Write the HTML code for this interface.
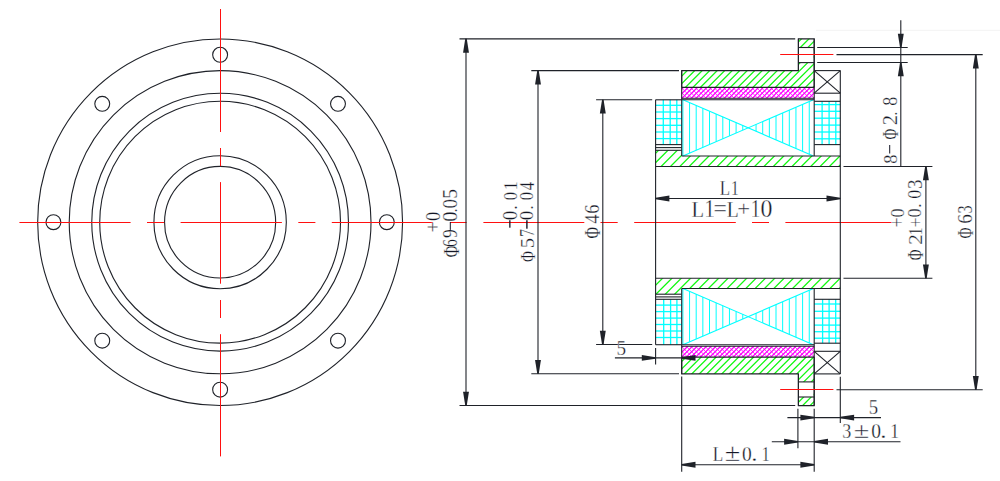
<!DOCTYPE html>
<html><head><meta charset="utf-8"><style>
html,body{margin:0;padding:0;background:#fff;}
body{width:1000px;height:481px;overflow:hidden;}
svg{display:block;font-family:"Liberation Serif",serif;}
</style></head><body>
<svg width="1000" height="481" viewBox="0 0 1000 481">
<rect width="1000" height="481" fill="#fff"/>
<line x1="816.00" y1="30.30" x2="1000.00" y2="30.30" stroke="#f3f3f3" stroke-width="1.0" />
<ellipse cx="220.12" cy="222.22" rx="182.45" ry="183.27" fill="none" stroke="#1f2229" stroke-width="1.1"/>
<ellipse cx="220.12" cy="222.22" rx="150.90" ry="151.58" fill="none" stroke="#1f2229" stroke-width="1.1"/>
<ellipse cx="220.12" cy="222.22" rx="128.35" ry="128.93" fill="none" stroke="#1f2229" stroke-width="1.1"/>
<ellipse cx="220.12" cy="222.22" rx="120.40" ry="120.94" fill="none" stroke="#1f2229" stroke-width="1.1"/>
<ellipse cx="220.12" cy="222.22" rx="66.20" ry="66.50" fill="none" stroke="#1f2229" stroke-width="1.1"/>
<ellipse cx="220.12" cy="222.22" rx="55.55" ry="55.80" fill="none" stroke="#1f2229" stroke-width="1.1"/>
<circle cx="386.82" cy="222.22" r="7.45" fill="none" stroke="#1f2229" stroke-width="1.1"/>
<circle cx="337.99" cy="340.63" r="7.45" fill="none" stroke="#1f2229" stroke-width="1.1"/>
<circle cx="220.12" cy="389.67" r="7.45" fill="none" stroke="#1f2229" stroke-width="1.1"/>
<circle cx="102.25" cy="340.63" r="7.45" fill="none" stroke="#1f2229" stroke-width="1.1"/>
<circle cx="53.42" cy="222.22" r="7.45" fill="none" stroke="#1f2229" stroke-width="1.1"/>
<circle cx="102.25" cy="103.81" r="7.45" fill="none" stroke="#1f2229" stroke-width="1.1"/>
<circle cx="220.12" cy="54.77" r="7.45" fill="none" stroke="#1f2229" stroke-width="1.1"/>
<circle cx="337.99" cy="103.81" r="7.45" fill="none" stroke="#1f2229" stroke-width="1.1"/>
<line x1="19.40" y1="222.50" x2="130.60" y2="222.50" stroke="#ff1010" stroke-width="1.0" />
<line x1="147.00" y1="222.50" x2="164.20" y2="222.50" stroke="#ff1010" stroke-width="1.0" />
<line x1="180.60" y1="222.50" x2="281.90" y2="222.50" stroke="#ff1010" stroke-width="1.0" />
<line x1="298.30" y1="222.50" x2="315.40" y2="222.50" stroke="#ff1010" stroke-width="1.0" />
<line x1="331.80" y1="222.50" x2="432.90" y2="222.50" stroke="#ff1010" stroke-width="1.0" />
<line x1="450.00" y1="222.50" x2="466.60" y2="222.50" stroke="#ff1010" stroke-width="1.0" />
<line x1="483.40" y1="222.50" x2="584.30" y2="222.50" stroke="#ff1010" stroke-width="1.0" />
<line x1="600.50" y1="222.50" x2="617.70" y2="222.50" stroke="#ff1010" stroke-width="1.0" />
<line x1="634.20" y1="222.50" x2="735.80" y2="222.50" stroke="#ff1010" stroke-width="1.0" />
<line x1="752.00" y1="222.50" x2="769.00" y2="222.50" stroke="#ff1010" stroke-width="1.0" />
<line x1="785.40" y1="222.50" x2="895.00" y2="222.50" stroke="#ff1010" stroke-width="1.0" />
<line x1="220.50" y1="9.00" x2="220.50" y2="132.00" stroke="#ff1010" stroke-width="1.0" />
<line x1="220.50" y1="148.00" x2="220.50" y2="166.20" stroke="#ff1010" stroke-width="1.0" />
<line x1="220.50" y1="182.10" x2="220.50" y2="283.70" stroke="#ff1010" stroke-width="1.0" />
<line x1="220.50" y1="300.00" x2="220.50" y2="318.00" stroke="#ff1010" stroke-width="1.0" />
<line x1="220.50" y1="334.20" x2="220.50" y2="456.40" stroke="#ff1010" stroke-width="1.0" />
<clipPath id="c1"><polygon points="681.70,70.60 798.40,70.60 798.40,38.85 814.20,38.85 814.20,87.40 681.70,87.40"/></clipPath>
<path clip-path="url(#c1)" d="M686.45,33.85L627.90,92.40M693.95,33.85L635.40,92.40M701.45,33.85L642.90,92.40M708.95,33.85L650.40,92.40M716.45,33.85L657.90,92.40M723.95,33.85L665.40,92.40M731.45,33.85L672.90,92.40M738.95,33.85L680.40,92.40M746.45,33.85L687.90,92.40M753.95,33.85L695.40,92.40M761.45,33.85L702.90,92.40M768.95,33.85L710.40,92.40M776.45,33.85L717.90,92.40M783.95,33.85L725.40,92.40M791.45,33.85L732.90,92.40M798.95,33.85L740.40,92.40M806.45,33.85L747.90,92.40M813.95,33.85L755.40,92.40M821.45,33.85L762.90,92.40M828.95,33.85L770.40,92.40M836.45,33.85L777.90,92.40M843.95,33.85L785.40,92.40M851.45,33.85L792.90,92.40M858.95,33.85L800.40,92.40M866.45,33.85L807.90,92.40" stroke="#12f812" stroke-width="1.3" fill="none"/>
<clipPath id="c2"><polygon points="681.70,373.90 798.40,373.90 798.40,405.65 814.20,405.65 814.20,357.10 681.70,357.10"/></clipPath>
<path clip-path="url(#c2)" d="M683.60,352.10L625.05,410.65M691.10,352.10L632.55,410.65M698.60,352.10L640.05,410.65M706.10,352.10L647.55,410.65M713.60,352.10L655.05,410.65M721.10,352.10L662.55,410.65M728.60,352.10L670.05,410.65M736.10,352.10L677.55,410.65M743.60,352.10L685.05,410.65M751.10,352.10L692.55,410.65M758.60,352.10L700.05,410.65M766.10,352.10L707.55,410.65M773.60,352.10L715.05,410.65M781.10,352.10L722.55,410.65M788.60,352.10L730.05,410.65M796.10,352.10L737.55,410.65M803.60,352.10L745.05,410.65M811.10,352.10L752.55,410.65M818.60,352.10L760.05,410.65M826.10,352.10L767.55,410.65M833.60,352.10L775.05,410.65M841.10,352.10L782.55,410.65M848.60,352.10L790.05,410.65M856.10,352.10L797.55,410.65M863.60,352.10L805.05,410.65" stroke="#12f812" stroke-width="1.3" fill="none"/>
<rect x="799.00" y="47.50" width="14.60" height="15.10" fill="#fff" stroke="none" stroke-width="0"/>
<rect x="799.00" y="381.90" width="14.60" height="15.10" fill="#fff" stroke="none" stroke-width="0"/>
<clipPath id="c3"><polygon points="681.70,87.40 814.20,87.40 814.20,98.30 681.70,98.30"/></clipPath>
<path clip-path="url(#c3)" d="M683.70,82.40L662.80,103.30M688.40,82.40L667.50,103.30M693.10,82.40L672.20,103.30M697.80,82.40L676.90,103.30M702.50,82.40L681.60,103.30M707.20,82.40L686.30,103.30M711.90,82.40L691.00,103.30M716.60,82.40L695.70,103.30M721.30,82.40L700.40,103.30M726.00,82.40L705.10,103.30M730.70,82.40L709.80,103.30M735.40,82.40L714.50,103.30M740.10,82.40L719.20,103.30M744.80,82.40L723.90,103.30M749.50,82.40L728.60,103.30M754.20,82.40L733.30,103.30M758.90,82.40L738.00,103.30M763.60,82.40L742.70,103.30M768.30,82.40L747.40,103.30M773.00,82.40L752.10,103.30M777.70,82.40L756.80,103.30M782.40,82.40L761.50,103.30M787.10,82.40L766.20,103.30M791.80,82.40L770.90,103.30M796.50,82.40L775.60,103.30M801.20,82.40L780.30,103.30M805.90,82.40L785.00,103.30M810.60,82.40L789.70,103.30M815.30,82.40L794.40,103.30M820.00,82.40L799.10,103.30M824.70,82.40L803.80,103.30M829.40,82.40L808.50,103.30" stroke="#ff00ff" stroke-width="1.3" fill="none"/>
<clipPath id="c4"><polygon points="681.70,87.40 814.20,87.40 814.20,98.30 681.70,98.30"/></clipPath>
<path clip-path="url(#c4)" d="M662.00,82.40L682.90,103.30M666.70,82.40L687.60,103.30M671.40,82.40L692.30,103.30M676.10,82.40L697.00,103.30M680.80,82.40L701.70,103.30M685.50,82.40L706.40,103.30M690.20,82.40L711.10,103.30M694.90,82.40L715.80,103.30M699.60,82.40L720.50,103.30M704.30,82.40L725.20,103.30M709.00,82.40L729.90,103.30M713.70,82.40L734.60,103.30M718.40,82.40L739.30,103.30M723.10,82.40L744.00,103.30M727.80,82.40L748.70,103.30M732.50,82.40L753.40,103.30M737.20,82.40L758.10,103.30M741.90,82.40L762.80,103.30M746.60,82.40L767.50,103.30M751.30,82.40L772.20,103.30M756.00,82.40L776.90,103.30M760.70,82.40L781.60,103.30M765.40,82.40L786.30,103.30M770.10,82.40L791.00,103.30M774.80,82.40L795.70,103.30M779.50,82.40L800.40,103.30M784.20,82.40L805.10,103.30M788.90,82.40L809.80,103.30M793.60,82.40L814.50,103.30M798.30,82.40L819.20,103.30M803.00,82.40L823.90,103.30M807.70,82.40L828.60,103.30" stroke="#ff00ff" stroke-width="0.8" fill="none"/>
<clipPath id="c5"><polygon points="681.70,346.20 814.20,346.20 814.20,357.10 681.70,357.10"/></clipPath>
<path clip-path="url(#c5)" d="M683.40,341.20L662.50,362.10M688.10,341.20L667.20,362.10M692.80,341.20L671.90,362.10M697.50,341.20L676.60,362.10M702.20,341.20L681.30,362.10M706.90,341.20L686.00,362.10M711.60,341.20L690.70,362.10M716.30,341.20L695.40,362.10M721.00,341.20L700.10,362.10M725.70,341.20L704.80,362.10M730.40,341.20L709.50,362.10M735.10,341.20L714.20,362.10M739.80,341.20L718.90,362.10M744.50,341.20L723.60,362.10M749.20,341.20L728.30,362.10M753.90,341.20L733.00,362.10M758.60,341.20L737.70,362.10M763.30,341.20L742.40,362.10M768.00,341.20L747.10,362.10M772.70,341.20L751.80,362.10M777.40,341.20L756.50,362.10M782.10,341.20L761.20,362.10M786.80,341.20L765.90,362.10M791.50,341.20L770.60,362.10M796.20,341.20L775.30,362.10M800.90,341.20L780.00,362.10M805.60,341.20L784.70,362.10M810.30,341.20L789.40,362.10M815.00,341.20L794.10,362.10M819.70,341.20L798.80,362.10M824.40,341.20L803.50,362.10M829.10,341.20L808.20,362.10" stroke="#ff00ff" stroke-width="1.3" fill="none"/>
<clipPath id="c6"><polygon points="681.70,346.20 814.20,346.20 814.20,357.10 681.70,357.10"/></clipPath>
<path clip-path="url(#c6)" d="M662.30,341.20L683.20,362.10M667.00,341.20L687.90,362.10M671.70,341.20L692.60,362.10M676.40,341.20L697.30,362.10M681.10,341.20L702.00,362.10M685.80,341.20L706.70,362.10M690.50,341.20L711.40,362.10M695.20,341.20L716.10,362.10M699.90,341.20L720.80,362.10M704.60,341.20L725.50,362.10M709.30,341.20L730.20,362.10M714.00,341.20L734.90,362.10M718.70,341.20L739.60,362.10M723.40,341.20L744.30,362.10M728.10,341.20L749.00,362.10M732.80,341.20L753.70,362.10M737.50,341.20L758.40,362.10M742.20,341.20L763.10,362.10M746.90,341.20L767.80,362.10M751.60,341.20L772.50,362.10M756.30,341.20L777.20,362.10M761.00,341.20L781.90,362.10M765.70,341.20L786.60,362.10M770.40,341.20L791.30,362.10M775.10,341.20L796.00,362.10M779.80,341.20L800.70,362.10M784.50,341.20L805.40,362.10M789.20,341.20L810.10,362.10M793.90,341.20L814.80,362.10M798.60,341.20L819.50,362.10M803.30,341.20L824.20,362.10M808.00,341.20L828.90,362.10" stroke="#ff00ff" stroke-width="0.8" fill="none"/>
<clipPath id="c7"><polygon points="655.60,150.30 681.70,150.30 681.70,156.00 840.30,156.00 840.30,166.50 655.60,166.50"/></clipPath>
<path clip-path="url(#c7)" d="M654.25,145.30L628.05,171.50M663.60,145.30L637.40,171.50M672.95,145.30L646.75,171.50M682.30,145.30L656.10,171.50M691.65,145.30L665.45,171.50M701.00,145.30L674.80,171.50M710.35,145.30L684.15,171.50M719.70,145.30L693.50,171.50M729.05,145.30L702.85,171.50M738.40,145.30L712.20,171.50M747.75,145.30L721.55,171.50M757.10,145.30L730.90,171.50M766.45,145.30L740.25,171.50M775.80,145.30L749.60,171.50M785.15,145.30L758.95,171.50M794.50,145.30L768.30,171.50M803.85,145.30L777.65,171.50M813.20,145.30L787.00,171.50M822.55,145.30L796.35,171.50M831.90,145.30L805.70,171.50M841.25,145.30L815.05,171.50M850.60,145.30L824.40,171.50M859.95,145.30L833.75,171.50" stroke="#12f812" stroke-width="1.3" fill="none"/>
<clipPath id="c8"><polygon points="655.60,294.20 681.70,294.20 681.70,288.50 840.30,288.50 840.30,278.30 655.60,278.30"/></clipPath>
<path clip-path="url(#c8)" d="M658.15,273.30L632.25,299.20M667.50,273.30L641.60,299.20M676.85,273.30L650.95,299.20M686.20,273.30L660.30,299.20M695.55,273.30L669.65,299.20M704.90,273.30L679.00,299.20M714.25,273.30L688.35,299.20M723.60,273.30L697.70,299.20M732.95,273.30L707.05,299.20M742.30,273.30L716.40,299.20M751.65,273.30L725.75,299.20M761.00,273.30L735.10,299.20M770.35,273.30L744.45,299.20M779.70,273.30L753.80,299.20M789.05,273.30L763.15,299.20M798.40,273.30L772.50,299.20M807.75,273.30L781.85,299.20M817.10,273.30L791.20,299.20M826.45,273.30L800.55,299.20M835.80,273.30L809.90,299.20M845.15,273.30L819.25,299.20M854.50,273.30L828.60,299.20" stroke="#12f812" stroke-width="1.3" fill="none"/>
<line x1="663.30" y1="99.80" x2="663.30" y2="144.60" stroke="#00ffff" stroke-width="1.3" />
<line x1="670.20" y1="99.80" x2="670.20" y2="144.60" stroke="#00ffff" stroke-width="1.3" />
<line x1="676.80" y1="99.80" x2="676.80" y2="144.60" stroke="#00ffff" stroke-width="1.3" />
<line x1="655.60" y1="105.30" x2="681.70" y2="105.30" stroke="#00ffff" stroke-width="1.3" />
<line x1="655.60" y1="112.00" x2="681.70" y2="112.00" stroke="#00ffff" stroke-width="1.3" />
<line x1="655.60" y1="118.60" x2="681.70" y2="118.60" stroke="#00ffff" stroke-width="1.3" />
<line x1="655.60" y1="125.30" x2="681.70" y2="125.30" stroke="#00ffff" stroke-width="1.3" />
<line x1="655.60" y1="132.00" x2="681.70" y2="132.00" stroke="#00ffff" stroke-width="1.3" />
<line x1="655.60" y1="138.60" x2="681.70" y2="138.60" stroke="#00ffff" stroke-width="1.3" />
<line x1="663.70" y1="299.30" x2="663.70" y2="344.70" stroke="#00ffff" stroke-width="1.3" />
<line x1="670.60" y1="299.30" x2="670.60" y2="344.70" stroke="#00ffff" stroke-width="1.3" />
<line x1="676.90" y1="299.30" x2="676.90" y2="344.70" stroke="#00ffff" stroke-width="1.3" />
<line x1="655.60" y1="305.10" x2="681.70" y2="305.10" stroke="#00ffff" stroke-width="1.3" />
<line x1="655.60" y1="311.60" x2="681.70" y2="311.60" stroke="#00ffff" stroke-width="1.3" />
<line x1="655.60" y1="318.10" x2="681.70" y2="318.10" stroke="#00ffff" stroke-width="1.3" />
<line x1="655.60" y1="324.50" x2="681.70" y2="324.50" stroke="#00ffff" stroke-width="1.3" />
<line x1="655.60" y1="331.00" x2="681.70" y2="331.00" stroke="#00ffff" stroke-width="1.3" />
<line x1="655.60" y1="337.50" x2="681.70" y2="337.50" stroke="#00ffff" stroke-width="1.3" />
<line x1="822.10" y1="101.30" x2="822.10" y2="144.60" stroke="#00ffff" stroke-width="1.3" />
<line x1="829.10" y1="101.30" x2="829.10" y2="144.60" stroke="#00ffff" stroke-width="1.3" />
<line x1="835.80" y1="101.30" x2="835.80" y2="144.60" stroke="#00ffff" stroke-width="1.3" />
<line x1="814.20" y1="104.60" x2="840.30" y2="104.60" stroke="#00ffff" stroke-width="1.3" />
<line x1="814.20" y1="111.30" x2="840.30" y2="111.30" stroke="#00ffff" stroke-width="1.3" />
<line x1="814.20" y1="118.20" x2="840.30" y2="118.20" stroke="#00ffff" stroke-width="1.3" />
<line x1="814.20" y1="125.10" x2="840.30" y2="125.10" stroke="#00ffff" stroke-width="1.3" />
<line x1="814.20" y1="132.00" x2="840.30" y2="132.00" stroke="#00ffff" stroke-width="1.3" />
<line x1="814.20" y1="138.80" x2="840.30" y2="138.80" stroke="#00ffff" stroke-width="1.3" />
<line x1="822.60" y1="299.30" x2="822.60" y2="343.20" stroke="#00ffff" stroke-width="1.3" />
<line x1="829.10" y1="299.30" x2="829.10" y2="343.20" stroke="#00ffff" stroke-width="1.3" />
<line x1="835.70" y1="299.30" x2="835.70" y2="343.20" stroke="#00ffff" stroke-width="1.3" />
<line x1="814.20" y1="304.00" x2="840.30" y2="304.00" stroke="#00ffff" stroke-width="1.3" />
<line x1="814.20" y1="311.30" x2="840.30" y2="311.30" stroke="#00ffff" stroke-width="1.3" />
<line x1="814.20" y1="318.10" x2="840.30" y2="318.10" stroke="#00ffff" stroke-width="1.3" />
<line x1="814.20" y1="325.10" x2="840.30" y2="325.10" stroke="#00ffff" stroke-width="1.3" />
<line x1="814.20" y1="331.70" x2="840.30" y2="331.70" stroke="#00ffff" stroke-width="1.3" />
<line x1="814.20" y1="338.20" x2="840.30" y2="338.20" stroke="#00ffff" stroke-width="1.3" />
<line x1="682.90" y1="99.70" x2="813.40" y2="156.00" stroke="#00ffff" stroke-width="1.1" />
<line x1="682.90" y1="156.00" x2="813.40" y2="99.70" stroke="#00ffff" stroke-width="1.1" />
<line x1="682.90" y1="99.70" x2="682.90" y2="156.00" stroke="#00ffff" stroke-width="1.0" />
<line x1="689.55" y1="102.57" x2="689.55" y2="153.13" stroke="#00ffff" stroke-width="1.0" />
<line x1="696.20" y1="105.44" x2="696.20" y2="150.26" stroke="#00ffff" stroke-width="1.0" />
<line x1="702.85" y1="108.31" x2="702.85" y2="147.39" stroke="#00ffff" stroke-width="1.0" />
<line x1="709.50" y1="111.18" x2="709.50" y2="144.52" stroke="#00ffff" stroke-width="1.0" />
<line x1="716.15" y1="114.04" x2="716.15" y2="141.66" stroke="#00ffff" stroke-width="1.0" />
<line x1="722.80" y1="116.91" x2="722.80" y2="138.79" stroke="#00ffff" stroke-width="1.0" />
<line x1="729.45" y1="119.78" x2="729.45" y2="135.92" stroke="#00ffff" stroke-width="1.0" />
<line x1="736.10" y1="122.65" x2="736.10" y2="133.05" stroke="#00ffff" stroke-width="1.0" />
<line x1="742.75" y1="125.52" x2="742.75" y2="130.18" stroke="#00ffff" stroke-width="1.0" />
<line x1="756.05" y1="124.44" x2="756.05" y2="131.26" stroke="#00ffff" stroke-width="1.0" />
<line x1="762.70" y1="121.57" x2="762.70" y2="134.13" stroke="#00ffff" stroke-width="1.0" />
<line x1="769.35" y1="118.70" x2="769.35" y2="137.00" stroke="#00ffff" stroke-width="1.0" />
<line x1="776.00" y1="115.84" x2="776.00" y2="139.86" stroke="#00ffff" stroke-width="1.0" />
<line x1="782.65" y1="112.97" x2="782.65" y2="142.73" stroke="#00ffff" stroke-width="1.0" />
<line x1="789.30" y1="110.10" x2="789.30" y2="145.60" stroke="#00ffff" stroke-width="1.0" />
<line x1="795.95" y1="107.23" x2="795.95" y2="148.47" stroke="#00ffff" stroke-width="1.0" />
<line x1="802.60" y1="104.36" x2="802.60" y2="151.34" stroke="#00ffff" stroke-width="1.0" />
<line x1="809.25" y1="101.49" x2="809.25" y2="154.21" stroke="#00ffff" stroke-width="1.0" />
<line x1="682.90" y1="288.50" x2="813.40" y2="344.80" stroke="#00ffff" stroke-width="1.1" />
<line x1="682.90" y1="344.80" x2="813.40" y2="288.50" stroke="#00ffff" stroke-width="1.1" />
<line x1="682.90" y1="288.50" x2="682.90" y2="344.80" stroke="#00ffff" stroke-width="1.0" />
<line x1="689.55" y1="291.37" x2="689.55" y2="341.93" stroke="#00ffff" stroke-width="1.0" />
<line x1="696.20" y1="294.24" x2="696.20" y2="339.06" stroke="#00ffff" stroke-width="1.0" />
<line x1="702.85" y1="297.11" x2="702.85" y2="336.19" stroke="#00ffff" stroke-width="1.0" />
<line x1="709.50" y1="299.98" x2="709.50" y2="333.32" stroke="#00ffff" stroke-width="1.0" />
<line x1="716.15" y1="302.84" x2="716.15" y2="330.46" stroke="#00ffff" stroke-width="1.0" />
<line x1="722.80" y1="305.71" x2="722.80" y2="327.59" stroke="#00ffff" stroke-width="1.0" />
<line x1="729.45" y1="308.58" x2="729.45" y2="324.72" stroke="#00ffff" stroke-width="1.0" />
<line x1="736.10" y1="311.45" x2="736.10" y2="321.85" stroke="#00ffff" stroke-width="1.0" />
<line x1="742.75" y1="314.32" x2="742.75" y2="318.98" stroke="#00ffff" stroke-width="1.0" />
<line x1="756.05" y1="313.24" x2="756.05" y2="320.06" stroke="#00ffff" stroke-width="1.0" />
<line x1="762.70" y1="310.37" x2="762.70" y2="322.93" stroke="#00ffff" stroke-width="1.0" />
<line x1="769.35" y1="307.50" x2="769.35" y2="325.80" stroke="#00ffff" stroke-width="1.0" />
<line x1="776.00" y1="304.64" x2="776.00" y2="328.66" stroke="#00ffff" stroke-width="1.0" />
<line x1="782.65" y1="301.77" x2="782.65" y2="331.53" stroke="#00ffff" stroke-width="1.0" />
<line x1="789.30" y1="298.90" x2="789.30" y2="334.40" stroke="#00ffff" stroke-width="1.0" />
<line x1="795.95" y1="296.03" x2="795.95" y2="337.27" stroke="#00ffff" stroke-width="1.0" />
<line x1="802.60" y1="293.16" x2="802.60" y2="340.14" stroke="#00ffff" stroke-width="1.0" />
<line x1="809.25" y1="290.29" x2="809.25" y2="343.01" stroke="#00ffff" stroke-width="1.0" />
<polyline points="681.70,87.40 681.70,70.60 798.40,70.60 798.40,38.85 814.20,38.85 814.20,87.40" fill="none" stroke="#1f2229" stroke-width="1.1"/>
<line x1="681.70" y1="87.40" x2="814.20" y2="87.40" stroke="#1f2229" stroke-width="1.1" />
<line x1="798.40" y1="47.50" x2="814.20" y2="47.50" stroke="#1f2229" stroke-width="1.1" />
<line x1="798.40" y1="62.60" x2="814.20" y2="62.60" stroke="#1f2229" stroke-width="1.1" />
<line x1="681.70" y1="98.30" x2="814.20" y2="98.30" stroke="#1f2229" stroke-width="1.1" />
<line x1="681.70" y1="99.70" x2="814.20" y2="99.70" stroke="#1f2229" stroke-width="1.1" />
<line x1="655.60" y1="99.80" x2="681.70" y2="99.80" stroke="#1f2229" stroke-width="1.1" />
<line x1="655.60" y1="144.60" x2="681.70" y2="144.60" stroke="#1f2229" stroke-width="1.1" />
<line x1="655.60" y1="147.60" x2="681.70" y2="147.60" stroke="#1f2229" stroke-width="1.1" />
<line x1="655.60" y1="150.30" x2="681.70" y2="150.30" stroke="#1f2229" stroke-width="1.1" />
<line x1="814.20" y1="70.60" x2="840.30" y2="70.60" stroke="#1f2229" stroke-width="1.1" />
<line x1="814.20" y1="93.20" x2="840.30" y2="93.20" stroke="#1f2229" stroke-width="1.1" />
<line x1="814.20" y1="70.60" x2="840.30" y2="93.20" stroke="#1f2229" stroke-width="1.1" />
<line x1="814.20" y1="93.20" x2="840.30" y2="70.60" stroke="#1f2229" stroke-width="1.1" />
<line x1="814.20" y1="101.30" x2="840.30" y2="101.30" stroke="#1f2229" stroke-width="1.1" />
<line x1="814.20" y1="144.60" x2="840.30" y2="144.60" stroke="#1f2229" stroke-width="1.1" />
<line x1="655.60" y1="166.50" x2="840.30" y2="166.50" stroke="#1f2229" stroke-width="1.1" />
<line x1="681.70" y1="156.00" x2="840.30" y2="156.00" stroke="#1f2229" stroke-width="1.1" />
<polyline points="681.70,357.10 681.70,373.90 798.40,373.90 798.40,405.65 814.20,405.65 814.20,357.10" fill="none" stroke="#1f2229" stroke-width="1.1"/>
<line x1="681.70" y1="357.10" x2="814.20" y2="357.10" stroke="#1f2229" stroke-width="1.1" />
<line x1="798.40" y1="397.00" x2="814.20" y2="397.00" stroke="#1f2229" stroke-width="1.1" />
<line x1="798.40" y1="381.90" x2="814.20" y2="381.90" stroke="#1f2229" stroke-width="1.1" />
<line x1="681.70" y1="346.20" x2="814.20" y2="346.20" stroke="#1f2229" stroke-width="1.1" />
<line x1="681.70" y1="344.80" x2="814.20" y2="344.80" stroke="#1f2229" stroke-width="1.1" />
<line x1="655.60" y1="344.70" x2="681.70" y2="344.70" stroke="#1f2229" stroke-width="1.1" />
<line x1="655.60" y1="299.30" x2="681.70" y2="299.30" stroke="#1f2229" stroke-width="1.1" />
<line x1="655.60" y1="296.90" x2="681.70" y2="296.90" stroke="#1f2229" stroke-width="1.1" />
<line x1="655.60" y1="294.20" x2="681.70" y2="294.20" stroke="#1f2229" stroke-width="1.1" />
<line x1="814.20" y1="373.90" x2="840.30" y2="373.90" stroke="#1f2229" stroke-width="1.1" />
<line x1="814.20" y1="351.30" x2="840.30" y2="351.30" stroke="#1f2229" stroke-width="1.1" />
<line x1="814.20" y1="373.90" x2="840.30" y2="351.30" stroke="#1f2229" stroke-width="1.1" />
<line x1="814.20" y1="351.30" x2="840.30" y2="373.90" stroke="#1f2229" stroke-width="1.1" />
<line x1="814.20" y1="343.20" x2="840.30" y2="343.20" stroke="#1f2229" stroke-width="1.1" />
<line x1="814.20" y1="299.30" x2="840.30" y2="299.30" stroke="#1f2229" stroke-width="1.1" />
<line x1="655.60" y1="278.30" x2="840.30" y2="278.30" stroke="#1f2229" stroke-width="1.1" />
<line x1="681.70" y1="288.50" x2="840.30" y2="288.50" stroke="#1f2229" stroke-width="1.1" />
<line x1="655.60" y1="99.80" x2="655.60" y2="344.70" stroke="#1f2229" stroke-width="1.1" />
<line x1="840.30" y1="70.60" x2="840.30" y2="373.90" stroke="#1f2229" stroke-width="1.1" />
<line x1="681.70" y1="70.60" x2="681.70" y2="156.00" stroke="#1f2229" stroke-width="1.1" />
<line x1="681.70" y1="288.50" x2="681.70" y2="373.90" stroke="#1f2229" stroke-width="1.1" />
<line x1="814.20" y1="38.85" x2="814.20" y2="156.00" stroke="#1f2229" stroke-width="1.1" />
<line x1="814.20" y1="288.50" x2="814.20" y2="405.65" stroke="#1f2229" stroke-width="1.1" />
<line x1="798.40" y1="38.85" x2="798.40" y2="70.60" stroke="#1f2229" stroke-width="1.1" />
<line x1="798.40" y1="373.90" x2="798.40" y2="405.65" stroke="#1f2229" stroke-width="1.1" />
<line x1="459.50" y1="38.85" x2="795.20" y2="38.85" stroke="#1f2229" stroke-width="1.1" />
<line x1="459.50" y1="405.55" x2="795.20" y2="405.55" stroke="#1f2229" stroke-width="1.1" />
<line x1="466.00" y1="38.85" x2="466.00" y2="405.55" stroke="#1f2229" stroke-width="1.1" />
<polygon points="466.75,38.85 465.25,38.85 463.05,52.65 468.95,52.65" fill="#1f2229" stroke="none"/>
<polygon points="465.25,405.55 466.75,405.55 468.95,391.75 463.05,391.75" fill="#1f2229" stroke="none"/>
<line x1="531.30" y1="70.60" x2="679.00" y2="70.60" stroke="#1f2229" stroke-width="1.1" />
<line x1="531.30" y1="373.70" x2="679.00" y2="373.70" stroke="#1f2229" stroke-width="1.1" />
<line x1="538.00" y1="70.60" x2="538.00" y2="373.70" stroke="#1f2229" stroke-width="1.1" />
<polygon points="538.75,70.60 537.25,70.60 535.05,84.40 540.95,84.40" fill="#1f2229" stroke="none"/>
<polygon points="537.25,373.70 538.75,373.70 540.95,359.90 535.05,359.90" fill="#1f2229" stroke="none"/>
<line x1="596.10" y1="99.80" x2="652.20" y2="99.80" stroke="#1f2229" stroke-width="1.1" />
<line x1="596.10" y1="344.50" x2="652.20" y2="344.50" stroke="#1f2229" stroke-width="1.1" />
<line x1="602.80" y1="99.80" x2="602.80" y2="344.50" stroke="#1f2229" stroke-width="1.1" />
<polygon points="603.55,99.80 602.05,99.80 599.85,113.60 605.75,113.60" fill="#1f2229" stroke="none"/>
<polygon points="602.05,344.50 603.55,344.50 605.75,330.70 599.85,330.70" fill="#1f2229" stroke="none"/>
<line x1="655.60" y1="198.45" x2="840.30" y2="198.45" stroke="#1f2229" stroke-width="1.1" />
<polygon points="655.60,197.70 655.60,199.20 669.40,201.40 669.40,195.50" fill="#1f2229" stroke="none"/>
<polygon points="840.30,199.20 840.30,197.70 826.50,195.50 826.50,201.40" fill="#1f2229" stroke="none"/>
<line x1="817.20" y1="47.50" x2="907.70" y2="47.50" stroke="#1f2229" stroke-width="1.1" />
<line x1="817.20" y1="62.50" x2="907.70" y2="62.50" stroke="#1f2229" stroke-width="1.1" />
<line x1="900.80" y1="20.30" x2="900.80" y2="166.50" stroke="#1f2229" stroke-width="1.1" />
<polygon points="900.05,47.50 901.55,47.50 903.75,33.70 897.85,33.70" fill="#1f2229" stroke="none"/>
<polygon points="901.55,62.50 900.05,62.50 897.85,76.30 903.75,76.30" fill="#1f2229" stroke="none"/>
<line x1="836.50" y1="54.60" x2="982.70" y2="54.60" stroke="#1f2229" stroke-width="1.1" />
<line x1="836.50" y1="389.70" x2="982.70" y2="389.70" stroke="#1f2229" stroke-width="1.1" />
<line x1="975.80" y1="54.60" x2="975.80" y2="389.70" stroke="#1f2229" stroke-width="1.1" />
<polygon points="976.55,54.60 975.05,54.60 972.85,68.40 978.75,68.40" fill="#1f2229" stroke="none"/>
<polygon points="975.05,389.70 976.55,389.70 978.75,375.90 972.85,375.90" fill="#1f2229" stroke="none"/>
<line x1="780.20" y1="54.50" x2="833.40" y2="54.50" stroke="#ff1010" stroke-width="1.0" />
<line x1="780.20" y1="389.50" x2="833.40" y2="389.50" stroke="#ff1010" stroke-width="1.0" />
<line x1="843.50" y1="166.50" x2="932.40" y2="166.50" stroke="#1f2229" stroke-width="1.1" />
<line x1="843.50" y1="278.30" x2="932.40" y2="278.30" stroke="#1f2229" stroke-width="1.1" />
<line x1="925.90" y1="166.50" x2="925.90" y2="278.30" stroke="#1f2229" stroke-width="1.1" />
<polygon points="926.65,166.50 925.15,166.50 922.95,180.30 928.85,180.30" fill="#1f2229" stroke="none"/>
<polygon points="925.15,278.30 926.65,278.30 928.85,264.50 922.95,264.50" fill="#1f2229" stroke="none"/>
<line x1="681.70" y1="376.50" x2="681.70" y2="471.70" stroke="#1f2229" stroke-width="1.1" />
<line x1="797.90" y1="408.70" x2="797.90" y2="448.30" stroke="#1f2229" stroke-width="1.1" />
<line x1="814.20" y1="408.70" x2="814.20" y2="471.70" stroke="#1f2229" stroke-width="1.1" />
<line x1="840.30" y1="376.80" x2="840.30" y2="423.00" stroke="#1f2229" stroke-width="1.1" />
<line x1="787.40" y1="417.60" x2="881.00" y2="417.60" stroke="#1f2229" stroke-width="1.1" />
<polygon points="814.20,418.35 814.20,416.85 800.40,414.65 800.40,420.55" fill="#1f2229" stroke="none"/>
<polygon points="840.30,416.85 840.30,418.35 854.10,420.55 854.10,414.65" fill="#1f2229" stroke="none"/>
<line x1="771.80" y1="441.80" x2="900.50" y2="441.80" stroke="#1f2229" stroke-width="1.1" />
<polygon points="797.90,442.55 797.90,441.05 784.10,438.85 784.10,444.75" fill="#1f2229" stroke="none"/>
<polygon points="814.20,441.05 814.20,442.55 828.00,444.75 828.00,438.85" fill="#1f2229" stroke="none"/>
<line x1="681.70" y1="464.70" x2="814.20" y2="464.70" stroke="#1f2229" stroke-width="1.1" />
<polygon points="681.70,463.95 681.70,465.45 695.50,467.65 695.50,461.75" fill="#1f2229" stroke="none"/>
<polygon points="814.20,465.45 814.20,463.95 800.40,461.75 800.40,467.65" fill="#1f2229" stroke="none"/>
<line x1="614.90" y1="357.90" x2="695.00" y2="357.90" stroke="#1f2229" stroke-width="1.1" />
<polygon points="655.60,358.65 655.60,357.15 641.80,354.95 641.80,360.85" fill="#1f2229" stroke="none"/>
<polygon points="681.70,357.15 681.70,358.65 695.50,360.85 695.50,354.95" fill="#1f2229" stroke="none"/>
<line x1="655.60" y1="347.90" x2="655.60" y2="364.50" stroke="#1f2229" stroke-width="1.1" />
<text transform="translate(719.69,194.90) scale(0.7975,1)" font-size="21.22" fill="#141726" stroke="#fff" stroke-width="0.3">L</text>
<text transform="translate(730.88,194.90) scale(0.7356,1)" font-size="21.06" fill="#141726" stroke="#fff" stroke-width="0.3">1</text>
<text transform="translate(691.48,216.70) scale(0.8585,1)" font-size="23.97" fill="#141726" stroke="#fff" stroke-width="0.3">L</text>
<text transform="translate(704.48,216.70) scale(0.8263,1)" font-size="24.55" fill="#141726" stroke="#fff" stroke-width="0.3">1</text>
<text transform="translate(713.52,216.42) scale(0.9857,1)" font-size="24.00" fill="#141726" stroke="#fff" stroke-width="0.3">=</text>
<text transform="translate(726.81,216.70) scale(0.8183,1)" font-size="23.97" fill="#141726" stroke="#fff" stroke-width="0.3">L</text>
<text transform="translate(737.36,215.58) scale(1.0933,1)" font-size="20.85" fill="#141726" stroke="#fff" stroke-width="0.3">+</text>
<text transform="translate(750.97,216.70) scale(0.7345,1)" font-size="24.55" fill="#141726" stroke="#fff" stroke-width="0.3">1</text>
<text transform="translate(760.45,216.65) scale(0.9682,1)" font-size="24.59" fill="#141726" stroke="#fff" stroke-width="0.3">0</text>
<text transform="translate(616.55,354.80) scale(0.9625,1)" font-size="20.00" fill="#141726" stroke="#fff" stroke-width="0.3">5</text>
<text transform="translate(868.77,413.80) scale(0.9375,1)" font-size="20.00" fill="#141726" stroke="#fff" stroke-width="0.3">5</text>
<text transform="translate(842.19,437.99) scale(0.8711,1)" font-size="20.75" fill="#141726" stroke="#fff" stroke-width="0.3">3</text>
<text transform="translate(853.66,438.00) scale(1.1881,1)" font-size="23.89" fill="#141726" stroke="#fff" stroke-width="0.3">±</text>
<text transform="translate(871.22,437.99) scale(0.9481,1)" font-size="20.59" fill="#141726" stroke="#fff" stroke-width="0.3">0</text>
<text transform="translate(880.27,437.88) scale(1.1538,1)" font-size="21.67" fill="#141726" stroke="#fff" stroke-width="0.3">.</text>
<text transform="translate(890.32,438.00) scale(0.8538,1)" font-size="20.45" fill="#141726" stroke="#fff" stroke-width="0.3">1</text>
<text transform="translate(712.79,461.00) scale(0.8008,1)" font-size="21.37" fill="#141726" stroke="#fff" stroke-width="0.3">L</text>
<text transform="translate(724.66,461.00) scale(1.1061,1)" font-size="25.66" fill="#141726" stroke="#fff" stroke-width="0.3">±</text>
<text transform="translate(741.92,460.89) scale(0.9347,1)" font-size="20.89" fill="#141726" stroke="#fff" stroke-width="0.3">0</text>
<text transform="translate(751.27,460.76) scale(1.1111,1)" font-size="22.50" fill="#141726" stroke="#fff" stroke-width="0.3">.</text>
<text transform="translate(761.76,461.00) scale(0.7544,1)" font-size="20.91" fill="#141726" stroke="#fff" stroke-width="0.3">1</text>
<text transform="translate(458.70,257.28) rotate(-90) scale(0.6705,1)" font-size="23.82" fill="#141726" stroke="#fff" stroke-width="0.3">Φ</text>
<text transform="translate(457.19,247.12) rotate(-90) scale(0.7457,1)" font-size="20.90" fill="#141726" stroke="#fff" stroke-width="0.3">6</text>
<text transform="translate(457.19,237.92) rotate(-90) scale(0.8347,1)" font-size="20.90" fill="#141726" stroke="#fff" stroke-width="0.3">9</text>
<rect x="449.80" y="222.00" width="1.00" height="7.90" fill="#141726"/>
<text transform="translate(457.39,221.63) rotate(-90) scale(0.9643,1)" font-size="21.48" fill="#141726" stroke="#fff" stroke-width="0.3">0</text>
<text transform="translate(457.16,212.38) rotate(-90) scale(1.0526,1)" font-size="15.83" fill="#141726" stroke="#fff" stroke-width="0.3">.</text>
<text transform="translate(457.19,208.45) rotate(-90) scale(0.8879,1)" font-size="21.19" fill="#141726" stroke="#fff" stroke-width="0.3">0</text>
<text transform="translate(457.48,198.63) rotate(-90) scale(0.9184,1)" font-size="21.50" fill="#141726" stroke="#fff" stroke-width="0.3">5</text>
<text transform="translate(440.10,221.04) rotate(-90) scale(0.9084,1)" font-size="20.44" fill="#141726" stroke="#fff" stroke-width="0.3">0</text>
<text transform="translate(440.12,232.47) rotate(-90) scale(0.9097,1)" font-size="21.28" fill="#141726" stroke="#fff" stroke-width="0.3">+</text>
<text transform="translate(516.80,190.36) rotate(-90) scale(0.9296,1)" font-size="19.70" fill="#141726" stroke="#fff" stroke-width="0.3">1</text>
<text transform="translate(516.61,200.27) rotate(-90) scale(0.8654,1)" font-size="19.26" fill="#141726" stroke="#fff" stroke-width="0.3">0</text>
<text transform="translate(516.52,209.69) rotate(-90) scale(1.0000,1)" font-size="18.33" fill="#141726" stroke="#fff" stroke-width="0.3">.</text>
<text transform="translate(516.60,220.35) rotate(-90) scale(0.9336,1)" font-size="20.15" fill="#141726" stroke="#fff" stroke-width="0.3">0</text>
<rect x="509.20" y="220.20" width="1.30" height="7.50" fill="#141726"/>
<text transform="translate(534.00,190.23) rotate(-90) scale(0.7990,1)" font-size="20.45" fill="#141726" stroke="#fff" stroke-width="0.3">4</text>
<text transform="translate(533.31,200.27) rotate(-90) scale(0.8654,1)" font-size="19.26" fill="#141726" stroke="#fff" stroke-width="0.3">0</text>
<text transform="translate(533.24,209.69) rotate(-90) scale(1.0476,1)" font-size="17.50" fill="#141726" stroke="#fff" stroke-width="0.3">.</text>
<text transform="translate(533.31,220.35) rotate(-90) scale(0.9766,1)" font-size="19.26" fill="#141726" stroke="#fff" stroke-width="0.3">0</text>
<rect x="526.20" y="220.20" width="1.40" height="8.50" fill="#141726"/>
<text transform="translate(533.80,236.80) rotate(-90) scale(0.7654,1)" font-size="20.00" fill="#141726" stroke="#fff" stroke-width="0.3">7</text>
<text transform="translate(533.60,248.25) rotate(-90) scale(1.0533,1)" font-size="19.70" fill="#141726" stroke="#fff" stroke-width="0.3">5</text>
<text transform="translate(534.60,262.05) rotate(-90) scale(0.6836,1)" font-size="21.83" fill="#141726" stroke="#fff" stroke-width="0.3">Φ</text>
<text transform="translate(598.60,213.83) rotate(-90) scale(0.9186,1)" font-size="20.00" fill="#141726" stroke="#fff" stroke-width="0.3">6</text>
<text transform="translate(598.80,223.46) rotate(-90) scale(0.8792,1)" font-size="20.30" fill="#141726" stroke="#fff" stroke-width="0.3">4</text>
<text transform="translate(599.90,238.47) rotate(-90) scale(0.6983,1)" font-size="22.44" fill="#141726" stroke="#fff" stroke-width="0.3">Φ</text>
<text transform="translate(896.79,105.72) rotate(-90) scale(0.8787,1)" font-size="20.59" fill="#141726" stroke="#fff" stroke-width="0.3">8</text>
<text transform="translate(896.75,115.47) rotate(-90) scale(0.9000,1)" font-size="16.67" fill="#141726" stroke="#fff" stroke-width="0.3">.</text>
<text transform="translate(897.00,125.33) rotate(-90) scale(0.9853,1)" font-size="21.06" fill="#141726" stroke="#fff" stroke-width="0.3">2</text>
<text transform="translate(897.90,139.54) rotate(-90) scale(0.6473,1)" font-size="22.60" fill="#141726" stroke="#fff" stroke-width="0.3">Φ</text>
<rect x="889.20" y="145.00" width="1.00" height="8.50" fill="#141726"/>
<text transform="translate(896.60,163.84) rotate(-90) scale(0.9355,1)" font-size="19.85" fill="#141726" stroke="#fff" stroke-width="0.3">8</text>
<text transform="translate(921.99,189.06) rotate(-90) scale(0.9110,1)" font-size="20.90" fill="#141726" stroke="#fff" stroke-width="0.3">3</text>
<text transform="translate(921.20,198.72) rotate(-90) scale(0.9253,1)" font-size="19.56" fill="#141726" stroke="#fff" stroke-width="0.3">0</text>
<text transform="translate(921.34,208.05) rotate(-90) scale(1.0952,1)" font-size="17.50" fill="#141726" stroke="#fff" stroke-width="0.3">.</text>
<text transform="translate(921.20,217.43) rotate(-90) scale(0.9375,1)" font-size="19.56" fill="#141726" stroke="#fff" stroke-width="0.3">0</text>
<text transform="translate(922.18,227.39) rotate(-90) scale(0.9021,1)" font-size="19.79" fill="#141726" stroke="#fff" stroke-width="0.3">+</text>
<text transform="translate(921.90,235.05) rotate(-90) scale(0.7437,1)" font-size="19.70" fill="#141726" stroke="#fff" stroke-width="0.3">1</text>
<text transform="translate(921.90,245.09) rotate(-90) scale(1.1169,1)" font-size="19.70" fill="#141726" stroke="#fff" stroke-width="0.3">2</text>
<text transform="translate(922.90,260.14) rotate(-90) scale(0.6562,1)" font-size="22.29" fill="#141726" stroke="#fff" stroke-width="0.3">Φ</text>
<text transform="translate(903.50,217.43) rotate(-90) scale(0.9235,1)" font-size="19.85" fill="#141726" stroke="#fff" stroke-width="0.3">0</text>
<text transform="translate(903.50,227.39) rotate(-90) scale(0.8925,1)" font-size="20.00" fill="#141726" stroke="#fff" stroke-width="0.3">+</text>
<text transform="translate(971.50,213.54) rotate(-90) scale(0.8132,1)" font-size="20.15" fill="#141726" stroke="#fff" stroke-width="0.3">3</text>
<text transform="translate(971.50,223.67) rotate(-90) scale(0.9580,1)" font-size="20.15" fill="#141726" stroke="#fff" stroke-width="0.3">6</text>
<text transform="translate(973.00,238.45) rotate(-90) scale(0.6539,1)" font-size="23.05" fill="#141726" stroke="#fff" stroke-width="0.3">Φ</text>
</svg></body></html>
